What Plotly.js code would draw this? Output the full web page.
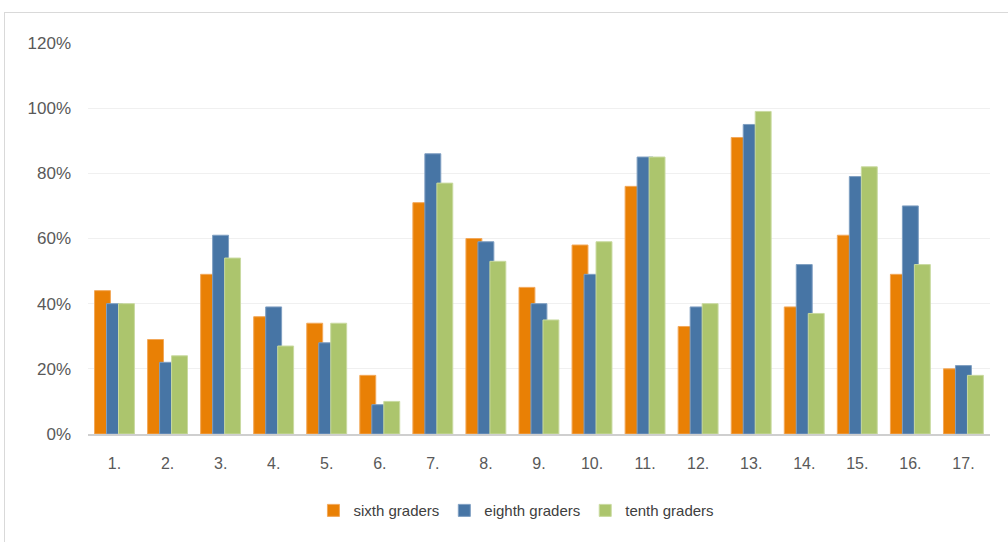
<!DOCTYPE html>
<html>
<head>
<meta charset="utf-8">
<script src="https://cdn.plot.ly/plotly-3.0.1.min.js"></script>
<style>
  html, body { margin: 0; padding: 0; background: #ffffff; }
  #frame { position: absolute; left: 4px; top: 12px; width: 1010px; height: 540px; border: 1px solid #d9d9d9; box-sizing: border-box; }
  #chart { position: absolute; left: 0; top: 0; width: 1008px; height: 542px; }
</style>
</head>
<body>
<div id="frame"></div>
<div id="chart"></div>
<script>
// Question numbers along the x axis
const categories = ['1.', '2.', '3.', '4.', '5.', '6.', '7.', '8.', '9.', '10.', '11.', '12.', '13.', '14.', '15.', '16.', '17.'];

// Share of correct answers per grade (percent)
const sixthGraders  = [44, 29, 49, 36, 34, 18, 71, 60, 45, 58, 76, 33, 91, 39, 61, 49, 20];
const eighthGraders = [40, 22, 61, 39, 28,  9, 86, 59, 40, 49, 85, 39, 95, 52, 79, 70, 21];
const tenthGraders  = [40, 24, 54, 27, 34, 10, 77, 53, 35, 59, 85, 40, 99, 37, 82, 52, 18];

const yTicks = [0, 20, 40, 60, 80, 100, 120];
const yTickText = yTicks.map(v => v + '%');

const seriesNames = ['sixth graders', 'eighth graders', 'tenth graders'];
const seriesColors = ['#E98005', '#4775A5', '#ACC56D'];
const seriesEdges = ['#F2A85A', '#7F9FC2', '#C9DAA0'];

// Overlapping bars: each bar is wider than its step, later series drawn on top
const barWidth = 0.30;
const offsets = [-0.377, -0.151, 0.075];

const seriesValues = [sixthGraders, eighthGraders, tenthGraders];
const traces = seriesValues.map((vals, i) => ({
  type: 'bar',
  name: seriesNames[i],
  x: categories,
  y: vals,
  width: barWidth,
  offset: offsets[i],
  marker: { color: seriesColors[i], line: { color: seriesEdges[i], width: 1 } },
  hoverinfo: 'x+y+name'
}));

const layout = {
  width: 1008,
  height: 542,
  margin: { l: 88, r: 18, t: 43, b: 108 },
  paper_bgcolor: 'rgba(0,0,0,0)',
  plot_bgcolor: 'rgba(0,0,0,0)',
  barmode: 'overlay',
  font: { family: 'Liberation Sans, Arial, sans-serif', color: '#595959' },
  xaxis: {
    type: 'category',
    showgrid: false,
    showline: true,
    linecolor: '#CFCFCF',
    linewidth: 2,
    ticks: '',
    tickfont: { size: 16, color: '#595959' },
    ticklabelstandoff: 14,
    zeroline: false
  },
  yaxis: {
    range: [0, 120],
    tickvals: yTicks,
    ticktext: yTickText,
    showgrid: true,
    gridcolor: '#F0F0F0',
    gridwidth: 1,
    zeroline: false,
    showline: false,
    ticks: '',
    tickfont: { size: 17, color: '#595959' },
    ticklabelstandoff: 16
  },
  showlegend: true,
  legend: {
    orientation: 'h',
    x: 0.475,
    xanchor: 'center',
    y: -0.196,
    yanchor: 'middle',
    font: { size: 15, color: '#404040' },
    itemwidth: 30,
    tracegroupgap: 0,
    bgcolor: 'rgba(0,0,0,0)'
  }
};

Plotly.newPlot('chart', traces, layout, { displayModeBar: false, staticPlot: true });
</script>
</body>
</html>
